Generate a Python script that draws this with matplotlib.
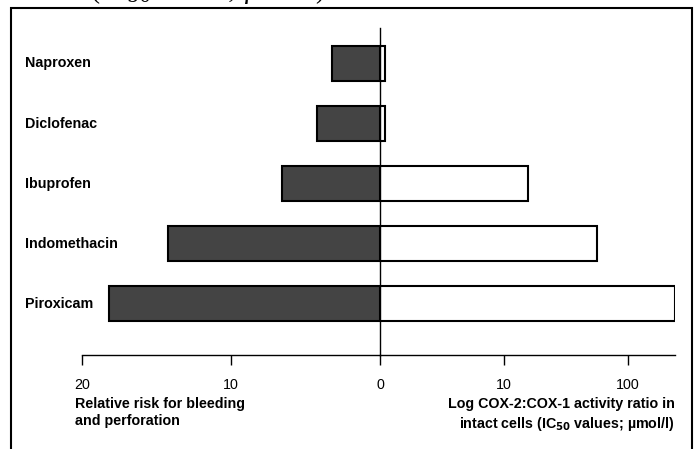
import numpy as np
import matplotlib
matplotlib.use("Agg")
from matplotlib import pyplot as plt
from matplotlib.patches import Rectangle
from matplotlib.transforms import blended_transform_factory

drugs = ["Naproxen", "Diclofenac", "Ibuprofen", "Indomethacin", "Piroxicam"]
risk = [3.2, 4.2, 6.6, 14.2, 18.2]          # relative risk (left)
cox_ratio = [1.1, 1.1, 15.5, 56, 240]        # COX-2:COX-1 ratio (right, log)
left_ticks = [20, 10]
right_ticks = [1, 10, 100]
right_ticklabels = ["0", "10", "100"]

NARROW = ["Liberation Sans Narrow", "Liberation Sans", "DejaVu Sans"]
plt.rcParams["font.family"] = NARROW
plt.rcParams["mathtext.fontset"] = "custom"
plt.rcParams["mathtext.rm"] = "Liberation Sans Narrow:bold"
plt.rcParams["mathtext.default"] = "rm"

W, H = 700, 449
fig = plt.figure(figsize=(W / 100, H / 100), dpi=100)

def box(x0, x1, y_top, y_bot):
    return [x0 / W, 1 - y_bot / H, (x1 - x0) / W, (y_bot - y_top) / H]

ax_l = fig.add_axes(box(82, 380, 28, 355))
ax_r = fig.add_axes(box(380, 675, 28, 355))

y = np.arange(len(drugs))
fs = 10.3
for ax in (ax_l, ax_r):
    ax.set_ylim(4.85, -0.59)
    ax.set_yticks([])
    for s in ("top", "right", "left"):
        ax.spines[s].set_visible(False)
    ax.spines["bottom"].set_linewidth(1.0)
    ax.tick_params(axis="x", direction="out", length=7.5, width=1.0, pad=9,
                   labelsize=fs)
    ax.patch.set_alpha(0)

ax_l.barh(y, risk, height=0.58, color="#444444", edgecolor="black", lw=1.5)
ax_l.set_xlim(20, 0)
ax_l.set_xticks(left_ticks)
ax_l.set_xticklabels([str(t) for t in left_ticks])

ax_r.set_xscale("log")
ax_r.barh(y, cox_ratio, height=0.58, left=0, color="white", edgecolor="black", lw=1.5)
ax_r.set_xlim(1, 240)
ax_r.set_xticks(right_ticks)
ax_r.set_xticklabels(right_ticklabels)
ax_r.xaxis.set_minor_locator(matplotlib.ticker.NullLocator())
ax_r.spines["left"].set_visible(True)
ax_r.spines["left"].set_linewidth(1.0)

# drug names
name_tr = blended_transform_factory(fig.transFigure, ax_l.transData)
for i, name in enumerate(drugs):
    ax_l.text(25 / W, i, name, transform=name_tr, ha="left", va="center",
              fontsize=fs, fontweight="bold")

fig.text(75 / W, 1 - 397 / H, "Relative risk for bleeding\nand perforation",
         ha="left", va="top", fontsize=fs, fontweight="bold", linespacing=1.3)
fig.text(675 / W, 1 - 397 / H,
         "Log COX-2:COX-1 activity ratio in\nintact cells (IC$_{50}$ values; \u00b5mol/l)",
         ha="right", va="top", fontsize=fs, fontweight="bold", linespacing=1.3,
         multialignment="right")

# frame and the cut-off caption line above it (only its lower edge shows)
fig.add_artist(Rectangle((11 / W, -0.05), 681 / W, 1.05 - 8 / H, fill=False,
                         lw=1.5, ec="black", transform=fig.transFigure))
fig.text(34 / W, 1 + 1.5 / H, "ratio (IC$_{50}$ values; \u00b5mol/l) for selected NSAIDs",
         family="Liberation Serif", fontsize=19.5, va="baseline", ha="left",
         math_fontfamily="dejavuserif")

fig.savefig("out.png", dpi=100)
